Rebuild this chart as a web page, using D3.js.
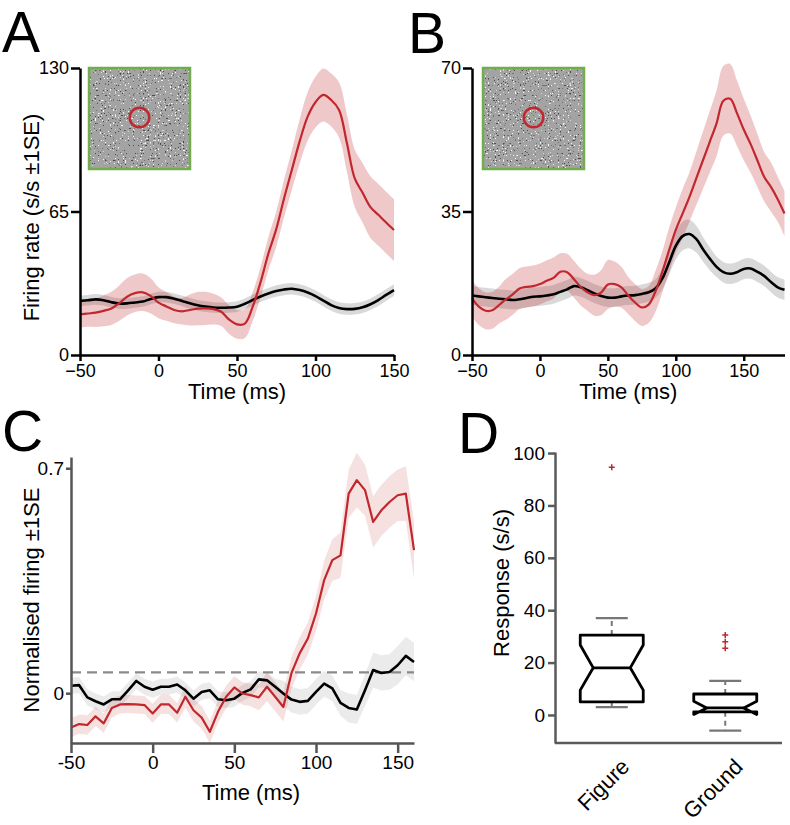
<!DOCTYPE html>
<html>
<head>
<meta charset="utf-8">
<title>Figure-ground responses</title>
<script src="https://d3js.org/d3.v7.min.js"></script>
<style>
  body { margin: 0; background: #fff; }
  svg text { font-family: "Liberation Sans", Arial, Helvetica, sans-serif; fill: #000; }
</style>
</head>
<body>
<script>
"use strict";

/*
  Data (5 ms bins)
*/

// Panel A
var timeA = d3.range(-50, 151, 5);
var redA = [18.4,18.8,19.2,20,21.1,23.5,26.4,28,28.4,26.8,
            23.7,22,20.4,19.8,20.4,21,21.1,20.8,19.6,16,
            13.9,14.2,21.9,33,46,57,71,84,97,108,
            114.5,117.8,115.5,111,96,80,73.5,67,63.5,60,56.6];
var redSeA = [6,6,6.5,7,7.5,8,8.5,8.5,8.5,8,
              7,6.5,6,6,7,7.5,7.5,7,6.5,6.5,
              6.5,6.5,6.5,7,7.5,8,8.5,9,10,11,
              11.5,12,12,12.5,13,13,13.5,14,14,14,14];
var blackA = [24.5,24.8,25.2,24.8,23.9,23.3,23.4,23.8,24.2,25.4,
              26.2,26.2,25.5,24.5,23.4,22.5,21.9,21.5,21.4,21.5,
              21.9,23.2,24.9,26.5,27.9,29,29.7,30,29.4,28.3,
              26.7,24.6,22.6,21.3,20.8,20.9,21.6,23,24.9,27.2,29.4];
var blackSeA = [2.4,2.4,2.4,2.4,2.4,2.4,2.4,2.4,2.4,2.4,
                2.4,2.4,2.4,2.4,2.4,2.4,2.4,2.4,2.4,2.4,
                2.4,2.4,2.5,2.5,2.5,2.6,2.6,2.6,2.6,2.6,
                2.6,2.6,2.6,2.6,2.6,2.6,2.6,2.6,2.7,2.7,2.7];
var ticksYA = [0, 65, 130];

// Panel B
var timeB = d3.range(-50, 181, 5);
var redB = [13.8,11.8,10.8,10.9,12.2,13.6,14.8,16.2,16.6,16.8,
            17.3,18.1,18.8,20.3,20.2,18.5,16.6,15.3,14.6,15.2,
            17.2,17.3,16.5,14.5,12.8,11.6,12.3,15.5,20.2,25.5,
            30.5,34.5,38.5,43,47.5,52,56.5,62,62.5,59,
            55,51.5,47.5,43.5,41,38,34.5];
var redSeB = [4.5,4.5,4.5,4.5,4.5,5,5,5,5,5,
              5,5,5,4.5,4.5,4.5,4.5,4.5,5,5.5,
              6,5.5,5,4.5,4.5,4.5,4.5,5,5,5.5,
              5.5,6,6,6.5,7,7.5,8,8.5,8.5,8,
              7.5,7,6.5,6,6,5.5,5.5];
var blackB = [14.5,14.3,14.1,13.9,13.7,13.6,13.4,13.6,13.9,14.2,
              14.3,14.5,14.8,15.4,16,16.8,16.5,15.8,15,14.4,
              14,14,14.3,14.5,14.6,14.9,15.3,16.2,18.6,22.5,
              26.6,29,29.5,28.3,25.8,23.5,21.5,20.2,19.8,20.2,
              21,21.1,20.3,19.3,17.8,16.5,15.9];
var blackSeB = [2.3,2.3,2.3,2.3,2.3,2.3,2.3,2.3,2.3,2.3,
                2.3,2.3,2.3,2.3,2.3,2.3,2.3,2.3,2.3,2.3,
                2.3,2.3,2.3,2.3,2.3,2.3,2.3,2.3,2.6,3,
                3.3,3.5,3.5,3.3,3,2.8,2.5,2.5,2.5,2.5,
                2.5,2.5,2.5,2.5,2.5,2.5,2.5];
var ticksYB = [0, 35, 70];

// Panel C (population, normalised)
var timeC = d3.range(-50, 161, 5);
var redC = [-0.107,-0.096,-0.099,-0.072,-0.094,-0.046,-0.035,-0.034,-0.035,-0.037,
            -0.063,-0.035,-0.035,-0.061,-0.011,-0.053,-0.076,-0.12,-0.058,-0.011,
            0.018,-0.001,-0.006,-0.013,0.02,-0.011,-0.043,0.063,0.124,0.17,
            0.248,0.352,0.414,0.429,0.621,0.663,0.632,0.533,0.569,0.595,
            0.616,0.621,0.445];
var redSeC = [0.03,0.03,0.03,0.03,0.03,0.03,0.028,0.028,0.028,0.028,
              0.03,0.03,0.03,0.03,0.035,0.035,0.035,0.035,0.035,0.035,
              0.035,0.035,0.035,0.04,0.045,0.045,0.045,0.05,0.05,0.05,
              0.055,0.06,0.065,0.07,0.075,0.085,0.08,0.08,0.08,0.08,
              0.08,0.085,0.09];
var blackC = [0.023,0.025,-0.013,-0.025,-0.035,-0.019,-0.019,0.009,0.038,0.02,
              0.011,0.02,0.02,0.027,0.009,-0.017,0.004,0.009,-0.019,-0.022,
              -0.017,0.001,0.012,0.043,0.04,0.02,-0.001,-0.02,-0.027,-0.024,
              0.004,0.03,0.015,-0.03,-0.046,-0.051,0.009,0.072,0.063,0.066,
              0.087,0.116,0.097];
var blackSeC = [0.025,0.025,0.025,0.025,0.025,0.025,0.025,0.025,0.025,0.025,
                0.025,0.025,0.025,0.025,0.025,0.025,0.025,0.025,0.025,0.025,
                0.025,0.025,0.025,0.025,0.025,0.025,0.04,0.04,0.04,0.04,
                0.04,0.04,0.04,0.04,0.045,0.045,0.05,0.055,0.055,0.055,
                0.06,0.06,0.06];
var thresholdC = 0.065;

// Panel D (boxplots)
var groupsD = ["Figure", "Ground"];
var q1D = [5, 1.2];
var medianD = [18, 2.7];
var q3D = [30.5, 8];
var notchLoD = [9.5, 0.2];
var notchHiD = [26.7, 5.2];
var whiskLoD = [3, -6];
var whiskHiD = [37, 13];
var outliersD = [[94.6], [30.5, 28, 25.5]];
var ticksYD = [0, 20, 40, 60, 80, 100];

var timeTicks = [-50, 0, 50, 100, 150];

var RED = "#c1272d";

var svg = d3.select("body").append("svg")
    .attr("width", 790)
    .attr("height", 825);

// speckle texture for the stimulus insets
var defs = svg.append("defs");
var filt = defs.append("filter")
    .attr("id", "noise")
    .attr("x", 0).attr("y", 0).attr("width", "100%").attr("height", "100%")
    .attr("color-interpolation-filters", "sRGB");
filt.append("feTurbulence")
    .attr("type", "fractalNoise")
    .attr("baseFrequency", 0.6)
    .attr("numOctaves", 1)
    .attr("seed", 7)
    .attr("result", "t");
filt.append("feColorMatrix")
    .attr("in", "t")
    .attr("type", "matrix")
    .attr("values", "2.2 0 0 0 -0.6  2.2 0 0 0 -0.6  2.2 0 0 0 -0.6  0 0 0 0 1")
    .attr("result", "s");
var ct = filt.append("feComponentTransfer").attr("in", "s");
["feFuncR", "feFuncG", "feFuncB"].forEach(function (f) {
  ct.append(f).attr("type", "discrete")
    .attr("tableValues", "0.3 0.45 0.64 0.64 0.64 0.64 0.64 0.64 0.64 0.64 0.64 0.64 0.64 0.64 0.85 0.97");
});

function label(txt, x, y) {
  svg.append("text")
      .attr("x", x).attr("y", y)
      .style("font-size", "57px")
      .text(txt);
}

function styleAxis(g, color, width, fontSize) {
  g.select(".domain").attr("stroke", color).attr("stroke-width", width);
  g.selectAll(".tick line").attr("stroke", color).attr("stroke-width", width);
  g.selectAll(".tick text").style("font-size", fontSize).attr("fill", "#000");
}

function trace(x, y, times, mean, se, color, bandOpacity, width, curve) {
  var pts = times.map(function (t, i) { return {t: t, m: mean[i], s: se[i]}; });
  svg.append("path")
      .datum(pts)
      .attr("fill", color)
      .attr("fill-opacity", bandOpacity)
      .attr("d", d3.area().curve(curve)
        .x(function (d) { return x(d.t); })
        .y0(function (d) { return y(d.m - d.s); })
        .y1(function (d) { return y(d.m + d.s); }));
  return function () {
    svg.append("path")
        .datum(pts)
        .attr("fill", "none")
        .attr("stroke", color)
        .attr("stroke-width", width)
        .attr("stroke-linejoin", "round")
        .attr("d", d3.line().curve(curve)
          .x(function (d) { return x(d.t); })
          .y(function (d) { return y(d.m); }));
  };
}

function inset(x0, y0, size) {
  svg.append("rect")
      .attr("x", x0).attr("y", y0).attr("width", size).attr("height", size)
      .attr("fill", "#a3a3a3")
      .attr("filter", "url(#noise)");
  svg.append("rect")
      .attr("x", x0).attr("y", y0).attr("width", size).attr("height", size)
      .attr("fill", "none")
      .attr("stroke", "#72ad4c")
      .attr("stroke-width", 2.5);
  svg.append("circle")
      .attr("cx", x0 + size / 2).attr("cy", y0 + size / 2 - 1)
      .attr("r", 9.8)
      .attr("fill", "none")
      .attr("stroke", RED)
      .attr("stroke-width", 2.5);
}

function timePanel(x, y, yTicks, yTitle, times, red, redSe, black, blackSe) {
  var smooth = d3.curveCatmullRom.alpha(0.5);
  var b = trace(x, y, times, black, blackSe, "#000", 0.15, 2.6, smooth);
  var r = trace(x, y, times, red, redSe, RED, 0.25, 2.2, smooth);
  b(); r();

  var gx = svg.append("g")
      .attr("transform", "translate(0," + y.range()[0] + ")")
      .call(d3.axisBottom(x).tickValues(timeTicks).tickSize(6).tickSizeOuter(0).tickPadding(3));
  styleAxis(gx, "#000", 2.5, "18px");
  var gy = svg.append("g")
      .attr("transform", "translate(" + x.range()[0] + ",0)")
      .call(d3.axisLeft(y).tickValues(yTicks).tickSize(9).tickSizeOuter(0).tickPadding(2)
        .tickFormat(d3.format("d")));
  styleAxis(gy, "#000", 2.5, "18px");

  var xm = (x.range()[0] + x.range()[1]) / 2;
  svg.append("text")
      .attr("x", xm).attr("y", y.range()[0] + 44)
      .attr("text-anchor", "middle")
      .style("font-size", "22px")
      .text("Time (ms)");
  if (yTitle) {
    var ym = (y.range()[0] + y.range()[1]) / 2;
    svg.append("text")
        .attr("transform", "translate(38.5," + (ym + 6) + ") rotate(-90)")
        .attr("text-anchor", "middle")
        .style("font-size", "22px")
        .text(yTitle);
  }
}

/*
  A
*/
var xA = d3.scaleLinear().domain([-50, 150]).range([80, 394]);
var yA = d3.scaleLinear().domain([0, 130]).range([355, 68]);
timePanel(xA, yA, ticksYA, "Firing rate (s/s \u00b11SE)", timeA, redA, redSeA, blackA, blackSeA);
inset(89, 68, 101);
label("A", 2, 52);

/*
  B
*/
var xB = d3.scaleLinear().domain([-50, 180]).range([472, 784.5]);
var yB = d3.scaleLinear().domain([0, 70]).range([355, 68]);
timePanel(xB, yB, ticksYB, null, timeB, redB, redSeB, blackB, blackSeB);
inset(483, 68, 101);
label("B", 408, 53);

/*
  C
*/
var xC = d3.scaleLinear().domain([-50, 160]).range([71, 414]);
var yC = d3.scaleLinear().domain([-0.155, 0.735]).range([743, 457]);
var bC = trace(xC, yC, timeC, blackC, blackSeC, "#000", 0.08, 2.6, d3.curveLinear);
var rC = trace(xC, yC, timeC, redC, redSeC, RED, 0.14, 2.2, d3.curveLinear);
svg.append("line")
    .attr("x1", xC.range()[0]).attr("x2", xC.range()[1])
    .attr("y1", yC(thresholdC)).attr("y2", yC(thresholdC))
    .attr("stroke", "#8a8a8a")
    .attr("stroke-width", 2.2)
    .attr("stroke-dasharray", "10,6");
bC(); rC();

var gxC = svg.append("g")
    .attr("transform", "translate(0," + yC.range()[0] + ")")
    .call(d3.axisBottom(xC).tickValues(timeTicks).tickSize(10).tickSizeOuter(0).tickPadding(3)
      .tickFormat(function (d) { return String(d); }));
styleAxis(gxC, "#555", 2.5, "19px");
var gyC = svg.append("g")
    .attr("transform", "translate(" + xC.range()[0] + ",0)")
    .call(d3.axisLeft(yC).tickValues([0, 0.7]).tickSize(5).tickSizeOuter(0).tickPadding(2)
      .tickFormat(function (d) { return String(d); }));
styleAxis(gyC, "#555", 2.5, "19px");
svg.append("text")
    .attr("x", 251).attr("y", 800)
    .attr("text-anchor", "middle")
    .style("font-size", "22px")
    .text("Time (ms)");
svg.append("text")
    .attr("transform", "translate(38.5,600) rotate(-90)")
    .attr("text-anchor", "middle")
    .style("font-size", "22px")
    .text("Normalised firing \u00b11SE");
label("C", 2, 451);

/*
  D
*/
var xD = d3.scalePoint().domain(groupsD).range([555, 782]).padding(0.5);
var yD = d3.scaleLinear().domain([-10.7, 100.4]).range([743, 452]);
var boxW = 63, notchIn = 13, capW = 32;

groupsD.forEach(function (g, i) {
  var cx = xD(g), x0 = cx - boxW / 2, x1 = cx + boxW / 2;
  // whiskers
  [[q3D[i], whiskHiD[i]], [q1D[i], whiskLoD[i]]].forEach(function (w) {
    svg.append("line")
        .attr("x1", cx).attr("x2", cx)
        .attr("y1", yD(w[0])).attr("y2", yD(w[1]))
        .attr("stroke", "#777").attr("stroke-width", 2)
        .attr("stroke-dasharray", "5,4");
    svg.append("line")
        .attr("x1", cx - capW / 2).attr("x2", cx + capW / 2)
        .attr("y1", yD(w[1])).attr("y2", yD(w[1]))
        .attr("stroke", "#777").attr("stroke-width", 2.2);
  });
  // notched box
  var p = d3.path();
  p.moveTo(x0, yD(q3D[i]));
  p.lineTo(x1, yD(q3D[i]));
  p.lineTo(x1, yD(notchHiD[i]));
  p.lineTo(x1 - notchIn, yD(medianD[i]));
  p.lineTo(x1, yD(notchLoD[i]));
  p.lineTo(x1, yD(q1D[i]));
  p.lineTo(x0, yD(q1D[i]));
  p.lineTo(x0, yD(notchLoD[i]));
  p.lineTo(x0 + notchIn, yD(medianD[i]));
  p.lineTo(x0, yD(notchHiD[i]));
  p.closePath();
  svg.append("path")
      .attr("d", p.toString())
      .attr("fill", "#fff")
      .attr("stroke", "#000")
      .attr("stroke-width", 2.8)
      .attr("stroke-linejoin", "round");
  svg.append("line")
      .attr("x1", x0 + notchIn).attr("x2", x1 - notchIn)
      .attr("y1", yD(medianD[i])).attr("y2", yD(medianD[i]))
      .attr("stroke", "#000").attr("stroke-width", 2.8);
  // outliers
  outliersD[i].forEach(function (v) {
    var yy = yD(v);
    svg.append("path")
        .attr("d", "M" + (cx - 3) + "," + yy + "H" + (cx + 3) + "M" + cx + "," + (yy - 3) + "V" + (yy + 3))
        .attr("stroke", RED).attr("stroke-width", 1.5);
  });
  // category label
  svg.append("text")
      .attr("transform", "translate(" + (cx + 19) + ",768) rotate(-45)")
      .attr("text-anchor", "end")
      .style("font-size", "22px")
      .text(g);
});

var gyD = svg.append("g")
    .attr("transform", "translate(555,0)")
    .call(d3.axisLeft(yD).tickValues(ticksYD).tickSize(7).tickSizeOuter(0).tickPadding(3));
styleAxis(gyD, "#5a5a5a", 2.5, "19px");
svg.append("line")
    .attr("x1", 555).attr("x2", 782)
    .attr("y1", yD.range()[0]).attr("y2", yD.range()[0])
    .attr("stroke", "#5a5a5a").attr("stroke-width", 2.5);
svg.append("text")
    .attr("transform", "translate(509,583) rotate(-90)")
    .attr("text-anchor", "middle")
    .style("font-size", "22px")
    .text("Response (s/s)");
label("D", 458, 453);
</script>
</body>
</html>
